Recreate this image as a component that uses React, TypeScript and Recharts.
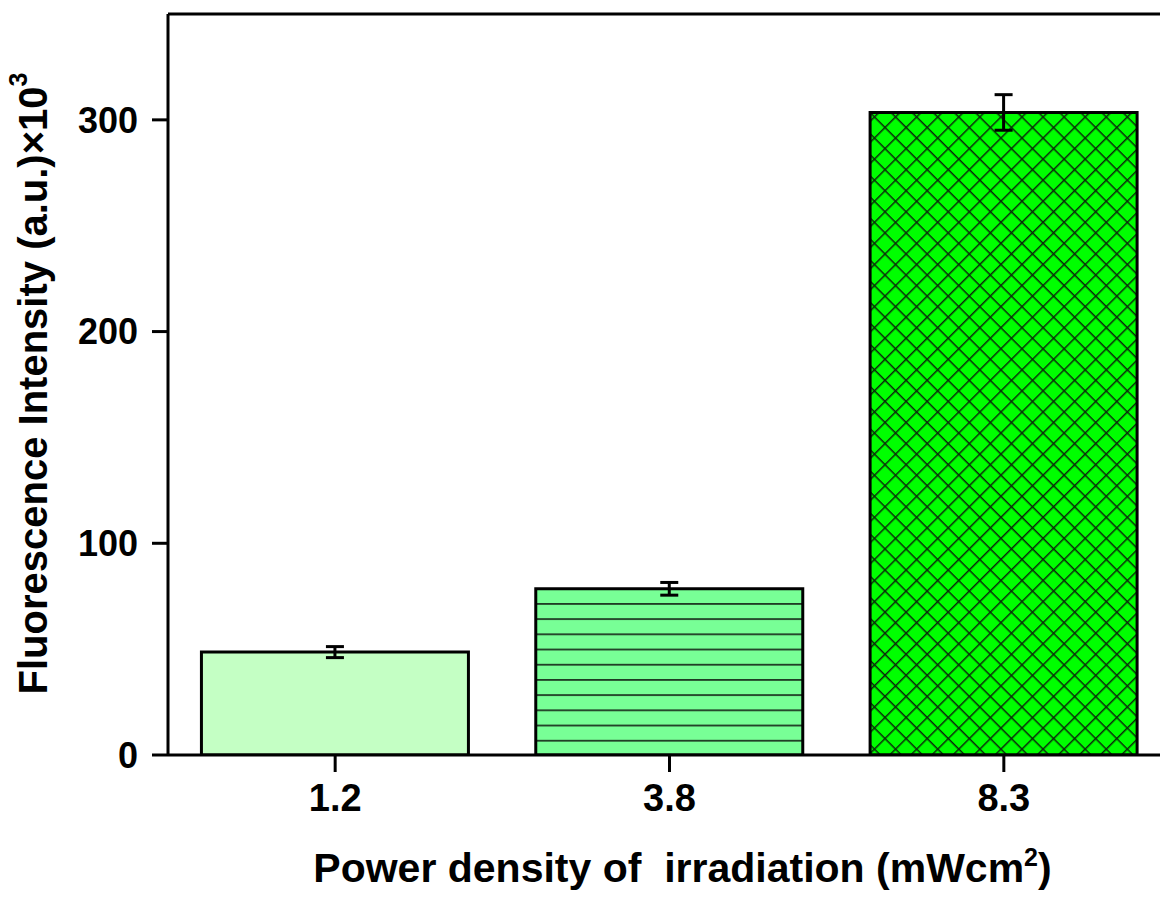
import React from "react";
import { BarChart, Bar, Cell, XAxis, YAxis, ErrorBar, ReferenceLine } from "recharts";

const categories = ["1.2", "3.8", "8.3"];
const intensity = [48.6, 78.5, 303.5];
const errors = [2.6, 3.0, 8.4];
const yTicks = [0, 100, 200, 300];
const fills = ["#C4FFC4", "url(#hatchH)", "url(#hatchX)"];

const data = categories.map((label, i) => ({ label, value: intensity[i], err: errors[i] }));

const FONT = '"Liberation Sans", Arial, sans-serif';

function YTitle(props: any) {
  const vb = props.viewBox || { x: 0, y: 0, width: 0, height: 0 };
  const cx = 33;
  const cy = vb.y + vb.height / 2 - 1;
  return (
    <text
      x={cx}
      y={cy}
      transform={`rotate(-90, ${cx}, ${cy})`}
      textAnchor="middle"
      dominantBaseline="central"
      fontFamily={FONT}
      fontWeight="bold"
      fontSize={40}
      fill="#000"
    >
      Fluorescence Intensity (a.u.)×10
      <tspan fontSize={25} dy={-15}>3</tspan>
    </text>
  );
}

function XTitle(props: any) {
  const vb = props.viewBox || { x: 0, y: 0, width: 0, height: 0 };
  const cx = vb.x + vb.width / 2 + 13;
  return (
    <text
      x={cx}
      y={882}
      textAnchor="middle"
      fontFamily={FONT}
      fontWeight="bold"
      fontSize={41}
      fill="#000"
      style={{ whiteSpace: "pre" }}
    >
      {"Power density of  irradiation (mWcm"}
      <tspan fontSize={25} dy={-16}>2</tspan>
      <tspan dy={16}>)</tspan>
    </text>
  );
}

export default function App() {
  const yTickStyle = { fill: "#000", fontSize: 36, fontWeight: "bold" as const, fontFamily: FONT };
  const xTickStyle = { fill: "#000", fontSize: 38, fontWeight: "bold" as const, fontFamily: FONT };
  return (
    <div style={{ position: "absolute", left: 0, top: 0, width: 1160, height: 897, overflow: "hidden", background: "#fff" }}>
      <BarChart
        width={1176}
        height={897}
        data={data}
        margin={{ top: 14, right: 5, bottom: 0, left: 0 }}
        barCategoryGap="10%"
      >
        <defs>
          <pattern id="hatchH" patternUnits="userSpaceOnUse" x={0} y={755} width={20} height={15.2}>
            <rect x={0} y={0} width={20} height={15.2} fill="#78FF96" />
            <line x1={0} y1={0.8} x2={20} y2={0.8} stroke="#1f3a24" strokeWidth={2} />
          </pattern>
          <pattern
            id="hatchX"
            patternUnits="userSpaceOnUse"
            width={14.9}
            height={14.9}
            patternTransform="rotate(45)"
          >
            <rect x={0} y={0} width={14.9} height={14.9} fill="#00FF00" />
            <line x1={0} y1={0.7} x2={14.9} y2={0.7} stroke="#0a2a0a" strokeWidth={1.6} />
            <line x1={0.7} y1={0} x2={0.7} y2={14.9} stroke="#0a2a0a" strokeWidth={1.6} />
          </pattern>
        </defs>
        <XAxis
          dataKey="label"
          height={142}
          tickSize={17}
          tickMargin={12}
          axisLine={{ stroke: "#000", strokeWidth: 3 }}
          tickLine={{ stroke: "#000", strokeWidth: 3 }}
          tick={xTickStyle}
          label={<XTitle />}
        />
        <YAxis
          width={168}
          domain={[0, 350]}
          ticks={yTicks}
          allowDataOverflow
          tickSize={16}
          tickMargin={14}
          axisLine={{ stroke: "#000", strokeWidth: 3 }}
          tickLine={{ stroke: "#000", strokeWidth: 3 }}
          tick={yTickStyle}
          label={<YTitle />}
        />
        <ReferenceLine y={350} stroke="#000" strokeWidth={3} ifOverflow="visible" />
        <Bar dataKey="value" stroke="#000" strokeWidth={3} isAnimationActive={false}>
          {data.map((d, i) => (
            <Cell key={d.label} fill={fills[i]} />
          ))}
          <ErrorBar dataKey="err" width={9} stroke="#000" strokeWidth={3} isAnimationActive={false} />
        </Bar>
      </BarChart>
    </div>
  );
}
